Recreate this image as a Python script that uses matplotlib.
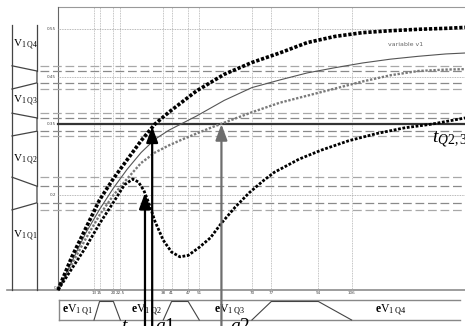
import numpy as np
import matplotlib.pyplot as plt

plt.rcParams['mathtext.fontset'] = 'custom'
plt.rcParams['mathtext.rm'] = 'Liberation Serif'
plt.rcParams['mathtext.it'] = 'Liberation Serif:italic'
plt.rcParams['mathtext.bf'] = 'Liberation Serif:bold'

# x ticks (time) and y ticks (v1)
x_ticks = [13, 15, 20, 22.5, 38, 41, 47, 51, 70, 77, 94, 106]
x_tick_labels = ['13', '15', '20', '22.5', '38', '41', '47', '51', '70', '77', '94', '106']
y_ticks = [0.2, 0.45, 0.55]
y_tick_labels = ['0.2', '0.45', '0.55']
y_ref = 0.35

# fuzzy transition bands on v1 (outer hi, inner hi, inner lo, outer lo)
v_bands = [[0.473, 0.462, 0.437, 0.424],
           [0.373, 0.363, 0.335, 0.325],
           [0.238, 0.219, 0.184, 0.169]]
v_labels = ['1 Q4', '1 Q3', '1 Q2', '1 Q1']
# fuzzy transition bands on time
e_bands = [[13, 15, 20, 22.5], [38, 41, 47, 51], [70, 77, 94, 106]]
e_labels = ['1 Q1', '1 Q2', '1 Q3', '1 Q4']

# curves
top_x = [0, 5, 10, 15, 20, 25, 30, 35, 40, 50, 60, 70, 80, 90, 100, 110, 120, 130, 140, 147]
top_y = [0, 0.07, 0.13, 0.19, 0.235, 0.275, 0.315, 0.35, 0.375, 0.42, 0.455, 0.48,
         0.50, 0.522, 0.535, 0.543, 0.547, 0.55, 0.552, 0.554]
thin_x = [0, 5, 10, 15, 20, 25, 30, 35, 40, 50, 60, 70, 80, 90, 100, 110, 120, 130, 140, 147]
thin_y = [0, 0.06, 0.12, 0.17, 0.215, 0.255, 0.29, 0.318, 0.337, 0.367, 0.40, 0.427,
          0.443, 0.458, 0.469, 0.479, 0.487, 0.493, 0.498, 0.50]
gray_x = [0, 5, 10, 15, 20, 25, 30, 35, 40, 45, 50, 55, 60, 70, 80, 90, 100, 110, 120, 130, 140, 147]
gray_y = [0, 0.055, 0.108, 0.158, 0.2, 0.235, 0.268, 0.29, 0.305, 0.318, 0.33, 0.342,
          0.353, 0.375, 0.395, 0.41, 0.425, 0.44, 0.453, 0.462, 0.465, 0.466]
dip_x = [0, 5, 10, 15, 20, 24, 27, 29, 31, 33, 35, 38, 41, 44, 47, 51, 55, 59, 64, 69,
         74, 78, 87, 95, 105, 115, 125, 135, 147]
dip_y = [0, 0.045, 0.09, 0.14, 0.185, 0.222, 0.234, 0.228, 0.21, 0.18, 0.145, 0.105,
         0.08, 0.07, 0.073, 0.09, 0.11, 0.141, 0.175, 0.205, 0.23, 0.248, 0.276, 0.295,
         0.315, 0.33, 0.342, 0.35, 0.363]

arrow_x = [31.4, 34, 59]
arrow_tip = [0.205, 0.345, 0.35]
arrow_col = ['black', 'black', '#6e6e6e']

# pixel layout helpers
SX, SY = 2.77, 474.0
def px(p):
    return (p - 58) / SX
def py(p):
    return (290 - p) / SY

fig = plt.figure(figsize=(4.65, 3.26), dpi=100)
ax = fig.add_axes([0, 0, 1, 1])
ax.set_xlim(px(0), px(465))
ax.set_ylim(py(326), py(0))
ax.axis('off')

xr = px(465)
# frame
ax.plot([0, xr], [py(7), py(7)], color='#999999', lw=0.8)
ax.plot([0, 0], [0, py(7)], color='#666666', lw=0.8)
ax.plot([px(7), xr], [0, 0], color='#8c8c8c', lw=1.2)

# grid
for xt, lab in zip(x_ticks, x_tick_labels):
    ax.plot([xt, xt], [0, py(7)], color='#b0b0b0', lw=0.6, linestyle=(0, (1, 1)))
    ax.text(xt, py(293), lab, fontsize=3, ha='center', va='center', color='#444444')
for yt, lab in zip(y_ticks, y_tick_labels):
    ax.plot([0, xr], [yt, yt], color='#a0a0a0', lw=0.6, linestyle=(0, (1, 1)))
    ax.text(px(56), yt, lab, fontsize=3, ha='right', va='center', color='#444444')
ax.text(px(56), 0.004, '0', fontsize=3, ha='right', va='center', color='#444444')
ax.text(px(56), y_ref, '0.35', fontsize=3, ha='right', va='center', color='#444444')

for band in v_bands:
    for i, v in enumerate(band):
        c = '#a8a8a8' if i in (0, 3) else '#8a8a8a'
        ax.plot([px(40), xr], [v, v], color=c, lw=0.9, linestyle=(0, (7, 3)))

ax.plot([0, xr], [y_ref, y_ref], color='#333333', lw=1.6, zorder=3)

# curves
ax.plot(thin_x, thin_y, color='#555555', lw=0.8, zorder=3)
ax.plot(gray_x, gray_y, color='#7a7a7a', lw=1.7, linestyle=(0, (1, 0.7)), zorder=3)
ax.plot(dip_x, dip_y, color='black', lw=2.0, linestyle=(0, (1, 0.6)), zorder=3)
ax.plot(top_x, top_y, color='black', lw=2.6, linestyle=(0, (0.9, 0.5)), zorder=3)

ax.text(px(388), py(45), 'variable v1', fontsize=4.5, color='#666666', va='center')

# arrows
for x0, tip, c in zip(arrow_x, arrow_tip, arrow_col):
    ax.annotate('', xy=(x0, tip), xytext=(x0, py(340)),
                arrowprops=dict(arrowstyle='-|>,head_length=0.6,head_width=0.22',
                                lw=1.6, color=c, mutation_scale=16,
                                shrinkA=0, shrinkB=0), zorder=4)

# left panel (v1 partitions)
xl, xv = px(12), px(37)
ax.plot([xl, xl], [0, py(25)], color='#444444', lw=0.9)
pts_x, pts_y = [xv], [py(25)]
for band in v_bands:
    pts_x += [xv, xl]
    pts_y += [band[1], band[0]]
    ax.plot([xl, xv, xv, xl], [band[0], band[1], band[2], band[3]], color='#444444', lw=0.9)
ax.plot([xv, xv], [py(25), v_bands[0][1]], color='#444444', lw=0.9)
for a, b in zip(v_bands[:-1], v_bands[1:]):
    ax.plot([xv, xv], [a[2], b[1]], color='#444444', lw=0.9)
ax.plot([xv, xv], [v_bands[-1][2], 0], color='#444444', lw=0.9)
v_label_y = [py(45), py(101), py(160), py(236)]
for lab, yy in zip(v_labels, v_label_y):
    ax.text(px(13), yy, r'$\mathrm{V}_{\mathrm{' + lab.replace(' ', r'\ ') + '}}$',
            fontsize=8, va='center', ha='left')

# bottom panel (time partitions)
yt_, yb_ = py(300), py(320)
ax.plot([px(59), px(460)], [yt_, yt_], color='#888888', lw=1.0)
ax.plot([px(59), px(460)], [yb_, yb_], color='#888888', lw=1.0)
ax.plot([px(59), px(59)], [yt_, yb_], color='#888888', lw=1.0)
for band in e_bands:
    ax.plot(band, [yb_, py(301.5), py(301.5), yb_], color='#444444', lw=0.8)
e_label_x = [px(62), px(131), px(214), px(375)]
for lab, xx in zip(e_labels, e_label_x):
    ax.text(xx, py(310), r'$\mathbf{e}\mathrm{V}_{\mathrm{' + lab.replace(' ', r'\ ') + '}}$',
            fontsize=8.5, va='center', ha='left')

# annotations
ax.text(px(432), py(140), r'$t_{Q2,3}$', fontsize=14, va='center', ha='left')
ax.text(px(121), py(331), r'$t$', fontsize=14, va='baseline', ha='left')
ax.text(px(155), py(331), r'$a1$', fontsize=14, va='baseline', ha='left')
ax.text(px(230), py(331), r'$a2$', fontsize=14, va='baseline', ha='left')

fig.savefig('out.png', dpi=100)
